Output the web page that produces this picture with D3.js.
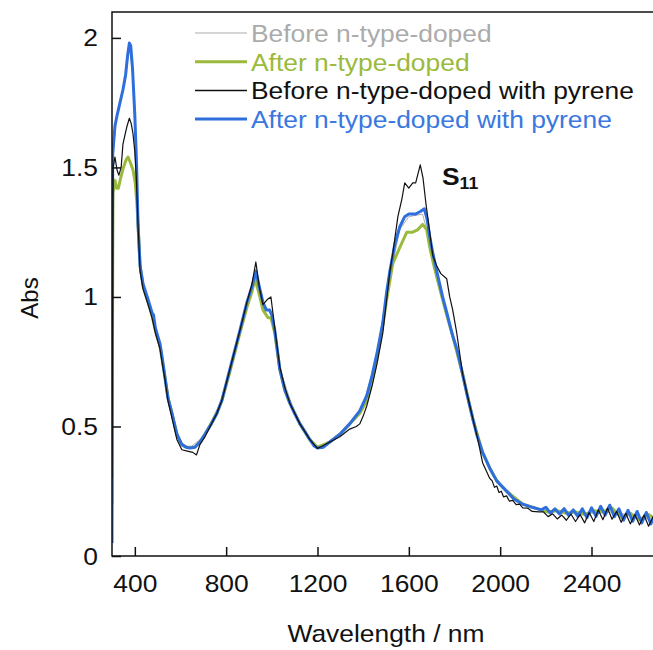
<!DOCTYPE html>
<html>
<head>
<meta charset="utf-8">
<script src="https://cdn.jsdelivr.net/npm/d3@7"></script>
<style>
  html, body { margin: 0; padding: 0; background: #fff; }
  svg { display: block; font-family: "Liberation Sans", Arial, Helvetica, sans-serif; }
</style>
</head>
<body>
<svg id="chart" width="653" height="650"></svg>
<script>
// [wavelength nm, absorbance]
const beforeDoped = [
  [300,0.05],[304,1.55],[320,1.69],[340,1.77],[360,1.86],[376,1.96],[390,1.87],[402,1.68],[410,1.45],
  [420,1.15],[440,1.04],[480,0.93],[520,0.76],[560,0.56],[600,0.44],[640,0.417],[700,0.46],[780,0.60],
  [860,0.87],[910,1.03],[930,1.09],[960,0.98],[1000,0.93],[1040,0.71],[1100,0.55],[1160,0.45],[1200,0.417],
  [1300,0.47],[1400,0.58],[1460,0.77],[1500,1.0],[1560,1.26],[1600,1.31],[1660,1.32],[1700,1.19],[1750,0.99],
  [1800,0.82],[1850,0.64],[1900,0.46],[1950,0.34],[2000,0.28],[2100,0.20],[2200,0.175],[2400,0.165],
  [2500,0.17],[2600,0.15],[2700,0.14]
];

const afterDoped = [
  [300,0.2],[304,1.40],[313,1.45],[320,1.42],[328,1.42],[338,1.46],[350,1.50],[362,1.53],[370,1.54],
  [380,1.52],[392,1.49],[402,1.44],[409,1.36],[414,1.28],[423,1.12],[436,1.04],[458,0.98],[475,0.93],
  [490,0.87],[510,0.81],[519,0.76],[532,0.69],[545,0.61],[563,0.55],[584,0.47],[606,0.43],[625,0.42],
  [641,0.42],[663,0.42],[685,0.44],[707,0.47],[759,0.55],[781,0.60],[816,0.71],[860,0.86],[891,0.96],
  [913,1.02],[926,1.07],[945,1.01],[961,0.95],[983,0.92],[996,0.92],[1013,0.86],[1035,0.72],[1057,0.64],
  [1079,0.59],[1123,0.51],[1166,0.45],[1200,0.42],[1254,0.44],[1298,0.47],[1341,0.51],[1385,0.55],
  [1416,0.60],[1440,0.68],[1460,0.76],[1486,0.89],[1503,0.99],[1530,1.13],[1560,1.19],[1591,1.25],
  [1617,1.25],[1640,1.26],[1660,1.28],[1678,1.26],[1692,1.19],[1710,1.12],[1730,1.05],[1748,0.99],
  [1766,0.93],[1792,0.85],[1836,0.70],[1880,0.53],[1923,0.40],[1954,0.34],[1985,0.29],[2028,0.25],
  [2099,0.20],[2180,0.178],[2210,0.17],[2250,0.175],[2290,0.165],[2330,0.17],[2370,0.16],[2410,0.175],
  [2450,0.17],[2490,0.185],[2530,0.15],[2570,0.165],[2610,0.14],[2650,0.16],[2700,0.13]
];

const beforePyrene = [
  [300,0.3],[305,1.50],[313,1.54],[322,1.49],[330,1.47],[340,1.50],[348,1.59],[358,1.63],[366,1.66],
  [376,1.69],[384,1.67],[392,1.63],[400,1.56],[407,1.45],[414,1.28],[423,1.10],[436,1.03],[458,0.97],
  [475,0.92],[490,0.86],[510,0.80],[519,0.75],[532,0.68],[545,0.60],[563,0.53],[584,0.45],[606,0.41],
  [630,0.405],[654,0.40],[670,0.39],[685,0.43],[707,0.46],[759,0.55],[781,0.60],[816,0.72],[860,0.87],
  [891,0.98],[913,1.05],[930,1.135],[945,1.04],[961,0.97],[980,0.99],[996,1.00],[1013,0.88],[1035,0.73],
  [1057,0.65],[1079,0.59],[1123,0.51],[1166,0.45],[1200,0.415],[1254,0.44],[1298,0.46],[1341,0.49],
  [1370,0.50],[1385,0.51],[1400,0.54],[1416,0.58],[1440,0.66],[1460,0.74],[1486,0.86],[1503,0.99],
  [1517,1.10],[1530,1.17],[1552,1.31],[1570,1.38],[1582,1.44],[1600,1.42],[1617,1.44],[1630,1.44],
  [1650,1.51],[1662,1.46],[1675,1.36],[1690,1.26],[1705,1.16],[1722,1.12],[1740,1.09],[1766,1.07],
  [1779,1.00],[1792,0.95],[1810,0.86],[1836,0.70],[1867,0.58],[1902,0.45],[1923,0.36],[1954,0.30],
  [1965,0.29],[1975,0.265],[1985,0.27],[1995,0.245],[2005,0.25],[2015,0.228],[2028,0.232],[2040,0.212],
  [2055,0.215],[2070,0.198],[2085,0.2],[2099,0.186],[2120,0.185],[2140,0.172],[2170,0.17],
  [2190,0.17],[2210,0.152],[2230,0.163],[2250,0.143],[2270,0.158],[2290,0.138],[2310,0.162],[2330,0.133],
  [2350,0.16],[2370,0.128],[2390,0.168],[2410,0.133],[2430,0.178],[2450,0.14],[2470,0.185],[2490,0.142],
  [2510,0.172],[2530,0.13],[2550,0.165],[2570,0.124],[2590,0.16],[2610,0.12],[2630,0.158],[2650,0.115],
  [2670,0.152],[2690,0.112]
];

const afterPyrene = [
  [300,0.05],[303,1.55],[313,1.66],[322,1.70],[335,1.75],[348,1.80],[360,1.86],[368,1.93],[376,1.98],
  [382,1.97],[390,1.88],[400,1.70],[408,1.50],[414,1.28],[423,1.12],[436,1.05],[458,0.99],[475,0.94],
  [482,0.93],[490,0.88],[510,0.82],[519,0.77],[532,0.69],[545,0.61],[563,0.55],[584,0.47],[606,0.43],
  [625,0.42],[641,0.417],[663,0.42],[685,0.44],[707,0.47],[735,0.51],[759,0.55],[781,0.60],[816,0.72],
  [860,0.87],[891,0.98],[913,1.04],[930,1.10],[945,1.04],[961,0.98],[975,0.95],[990,0.95],[1000,0.93],
  [1013,0.87],[1035,0.72],[1057,0.64],[1079,0.59],[1100,0.55],[1123,0.51],[1145,0.48],[1166,0.45],
  [1185,0.425],[1200,0.417],[1225,0.42],[1254,0.44],[1298,0.47],[1341,0.51],[1385,0.56],[1416,0.62],
  [1440,0.70],[1460,0.78],[1486,0.90],[1503,1.02],[1517,1.10],[1538,1.20],[1560,1.27],[1582,1.31],
  [1600,1.32],[1630,1.32],[1650,1.33],[1668,1.34],[1680,1.30],[1692,1.23],[1705,1.17],[1722,1.10],
  [1748,1.00],[1766,0.94],[1792,0.85],[1810,0.80],[1836,0.70],[1853,0.63],[1880,0.53],[1897,0.47],
  [1923,0.40],[1954,0.34],[1985,0.29],[2028,0.25],[2060,0.22],[2099,0.20],[2140,0.188],[2180,0.178],
  [2200,0.188],[2220,0.166],[2240,0.182],[2260,0.162],[2280,0.183],[2300,0.157],[2320,0.178],[2340,0.153],
  [2360,0.182],[2380,0.148],[2400,0.186],[2420,0.153],[2440,0.192],[2460,0.158],[2480,0.196],[2500,0.152],
  [2520,0.182],[2540,0.138],[2560,0.176],[2580,0.134],[2600,0.172],[2620,0.128],[2640,0.168],[2660,0.124],
  [2680,0.162],[2700,0.122]
];

const seriesNames = ["Before n-type-doped", "After n-type-doped", "Before n-type-doped with pyrene", "After n-type-doped with pyrene"];
const xTicks = [400, 800, 1200, 1600, 2000, 2400];
const yTicks = [0, 0.5, 1, 1.5, 2];

const margin = { top: 12, left: 112 };
const plotRight = 660, plotBottom = 556;

const svg = d3.select("#chart");

const x = d3.scaleLinear().domain([300, 2700]).range([margin.left, plotRight]);
const y = d3.scaleLinear().domain([0, 2.1]).range([plotBottom, margin.top]);

svg.append("defs").append("clipPath").attr("id", "plot-clip")
  .append("rect")
  .attr("x", margin.left).attr("y", margin.top)
  .attr("width", plotRight - margin.left).attr("height", plotBottom - margin.top);

const line = d3.line()
  .x(d => x(d[0]))
  .y(d => y(d[1]));

const series = [
  { data: beforeDoped, color: "#ababab", width: 1, text: "#ababab" },
  { data: afterDoped, color: "#9bba3c", width: 3, text: "#9bba3c" },
  { data: afterPyrene, color: "#2f6fdd", width: 3, text: "#3a78e0" },
  { data: beforePyrene, color: "#111111", width: 1.2, text: "#111111" }
];

const lines = svg.append("g").attr("clip-path", "url(#plot-clip)");
series.forEach(s => {
  lines.append("path")
    .datum(s.data)
    .attr("fill", "none")
    .attr("stroke", s.color)
    .attr("stroke-width", s.width)
    .attr("stroke-linejoin", "round")
    .attr("d", line);
});

// axes, ticks pointing inward
const xAxis = svg.append("g")
  .attr("transform", `translate(0,${plotBottom})`)
  .call(d3.axisBottom(x).tickValues(xTicks).tickSizeInner(-9).tickSizeOuter(0).tickFormat(d3.format("d")));
xAxis.select(".domain").remove();
xAxis.selectAll("line").attr("stroke", "#111").attr("stroke-width", 1.5);
xAxis.selectAll("text")
  .attr("y", null).attr("dy", null)
  .attr("transform", "translate(0,36) scale(1.1,1)")
  .attr("fill", "#111")
  .style("font-size", "24px");

const yAxis = svg.append("g")
  .attr("transform", `translate(${margin.left},0)`)
  .call(d3.axisLeft(y).tickValues(yTicks).tickSizeInner(-9).tickSizeOuter(0).tickFormat(d3.format("")));
yAxis.select(".domain").remove();
yAxis.selectAll("line").attr("stroke", "#111").attr("stroke-width", 1.5);
yAxis.selectAll("text")
  .attr("x", null).attr("dy", null)
  .attr("transform", "translate(-14,8) scale(1.1,1)")
  .attr("fill", "#111")
  .style("font-size", "24px");

// frame (right side falls outside the window)
svg.append("rect")
  .attr("x", margin.left).attr("y", margin.top)
  .attr("width", plotRight - margin.left).attr("height", plotBottom - margin.top)
  .attr("fill", "none").attr("stroke", "#111").attr("stroke-width", 1.5);

// axis titles
svg.append("text")
  .attr("transform", "translate(386,642) scale(1.1,1)")
  .attr("text-anchor", "middle")
  .style("font-size", "24px").attr("fill", "#111")
  .text("Wavelength / nm");

svg.append("text")
  .attr("transform", "translate(38,298) rotate(-90)")
  .attr("text-anchor", "middle")
  .style("font-size", "24px").attr("fill", "#111")
  .text("Abs");

// legend
const legendOrder = [0, 1, 3, 2];
const legend = svg.append("g");
seriesNames.forEach((name, i) => {
  const s = series[legendOrder[i]];
  const base = 42 + i * 28.7;
  legend.append("line")
    .attr("x1", 195).attr("x2", 247)
    .attr("y1", base - 9).attr("y2", base - 9)
    .attr("stroke", s.color)
    .attr("stroke-width", i === 0 ? 1.2 : (i === 2 ? 1.5 : 3));
  legend.append("text")
    .attr("transform", `translate(251,${base}) scale(1.1,1)`)
    .style("font-size", "24px")
    .attr("fill", s.text)
    .text(name);
});

// S11 label
const s11 = svg.append("text")
  .attr("transform", "translate(442,185) scale(1.1,1)")
  .attr("fill", "#111");
s11.append("tspan").style("font-size", "24px").style("font-weight", "bold").text("S");
s11.append("tspan").style("font-size", "16px").style("font-weight", "bold").attr("dy", 4).text("11");
</script>
</body>
</html>
